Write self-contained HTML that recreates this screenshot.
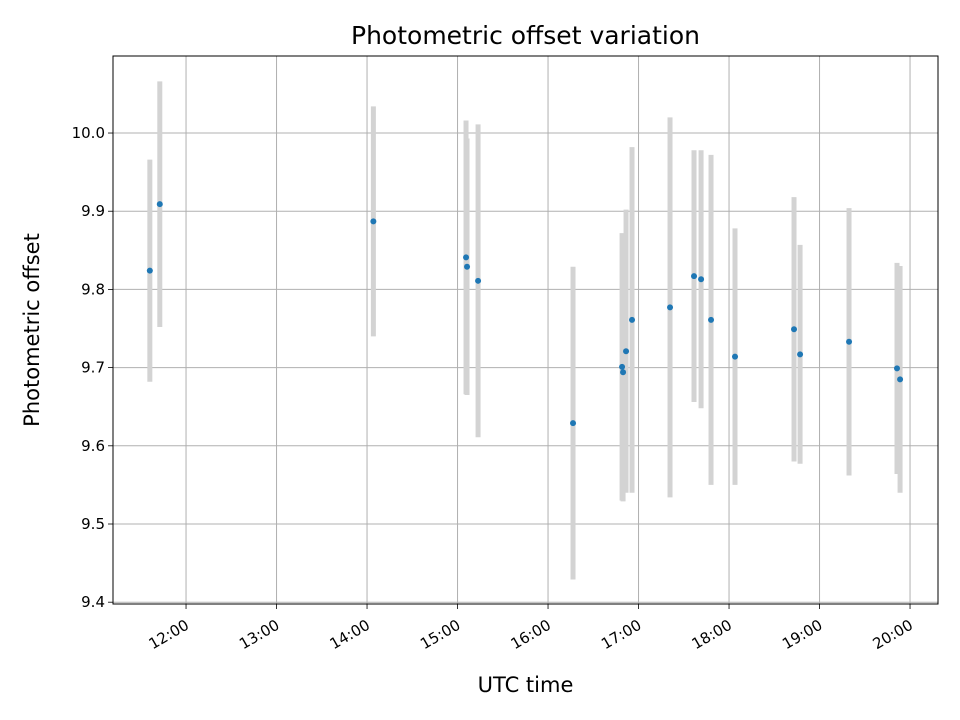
<!DOCTYPE html>
<html><head><meta charset="utf-8"><style>body{margin:0;background:#fff}svg{display:block;font-family:"DejaVu Sans","Liberation Sans",sans-serif}</style></head>
<body>
<svg id="chart" width="960" height="720" xmlns="http://www.w3.org/2000/svg"></svg>
<script>
const times=[11.60,11.71,14.07,15.094,15.105,15.227,16.276,16.818,16.829,16.862,16.928,17.348,17.613,17.691,17.801,18.066,18.718,18.785,19.326,19.856,19.890];
const values=[9.824,9.909,9.887,9.841,9.829,9.811,9.629,9.701,9.694,9.721,9.761,9.777,9.817,9.813,9.761,9.714,9.749,9.717,9.733,9.699,9.685];
const errors=[0.142,0.157,0.147,0.175,0.164,0.2,0.2,0.171,0.165,0.181,0.221,0.243,0.161,0.165,0.211,0.164,0.169,0.14,0.171,0.135,0.145];
const xTicks=[12,13,14,15,16,17,18,19,20];
const xTickLabels=["12:00","13:00","14:00","15:00","16:00","17:00","18:00","19:00","20:00"];
const yTicks=[9.4,9.5,9.6,9.7,9.8,9.9,10.0];
const yTickLabels=["9.4","9.5","9.6","9.7","9.8","9.9","10.0"];
const L=113,R=938,T=56,B=604;
const xMin=11.193,xMax=20.309,yMin=9.3977,yMax=10.0985;
const sx=v=>L+(v-xMin)/(xMax-xMin)*(R-L);
const sy=v=>B-(v-yMin)/(yMax-yMin)*(B-T);
const svg=document.getElementById('chart');const NS='http://www.w3.org/2000/svg';
function mk(tag,attrs,parent){const e=document.createElementNS(NS,tag);for(const k in attrs)e.setAttribute(k,attrs[k]);(parent||svg).appendChild(e);return e;}
const grid=mk('g',{});


xTicks.forEach((t,i)=>{const x=sx(t);
 mk('line',{x1:x,x2:x,y1:T,y2:B,stroke:'#b0b0b0','stroke-width':1},grid);
 mk('line',{x1:x,x2:x,y1:B,y2:B+5,stroke:'#000','stroke-width':0.8});
 const tx=mk('text',{x:x+4,y:B+24,'font-size':15,'text-anchor':'end',transform:`rotate(-30 ${x+4} ${B+24})`});
 tx.textContent=xTickLabels[i];
 
 
});
yTicks.forEach((t,i)=>{const y=sy(t);
 mk('line',{x1:L,x2:R,y1:y,y2:y,stroke:'#b0b0b0','stroke-width':1},grid);
 mk('line',{x1:L-5,x2:L,y1:y,y2:y,stroke:'#000','stroke-width':0.8});
 const tx=mk('text',{x:L-8,y:y+5,'font-size':15,'text-anchor':'end'});
 tx.textContent=yTickLabels[i];
 
 
});
times.forEach((t,i)=>{const x=sx(t);
 const e=mk('line',{x1:x,x2:x,y1:sy(values[i]-errors[i]),y2:sy(values[i]+errors[i]),stroke:'#d3d3d3','stroke-width':5});
 
 
});
times.forEach((t,i)=>{
 const c=mk('circle',{cx:sx(t),cy:sy(values[i]),r:3,fill:'#1f77b4'});
 
 
});
const fr=mk('rect',{x:L,y:T,width:R-L,height:B-T,fill:'none',stroke:'#000','stroke-width':1});


const ti=mk('text',{x:(L+R)/2,y:44,'font-size':25,'text-anchor':'middle'});ti.textContent='Photometric offset variation';


const xl=mk('text',{x:(L+R)/2,y:692,'font-size':21,'text-anchor':'middle'});xl.textContent='UTC time';


const yl=mk('text',{x:39,y:330,'font-size':21,'text-anchor':'middle',transform:'rotate(-90 39 330)'});yl.textContent='Photometric offset';


</script>
</body></html>
